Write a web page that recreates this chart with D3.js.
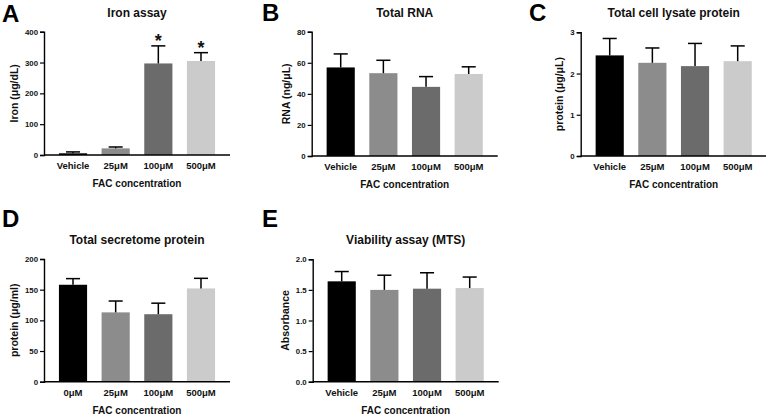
<!DOCTYPE html>
<html><head><meta charset="utf-8">
<script src="https://cdn.jsdelivr.net/npm/d3@7/dist/d3.min.js"></script>
<style>
html,body{margin:0;padding:0;background:#fff;}
svg{display:block;font-family:"Liberation Sans",Arial,sans-serif;}
</style></head>
<body>
<svg id="chart" width="766" height="415"></svg>
<script>
// ---- data ----
const categoriesFAC = ["Vehicle", "25μM", "100μM", "500μM"];
const categoriesD = ["0μM", "25μM", "100μM", "500μM"];
const barColors = ["#000000", "#8c8c8c", "#6b6b6b", "#cbcbcb"];

const ironMean = [5.5, 21.5, 297, 305];
const ironErr = [4.5, 4.5, 57, 27];
const ironStars = ["", "", "*", "*"];
const ironTicks = [0, 100, 200, 300, 400];

const rnaMean = [57, 53.3, 44.5, 52.8];
const rnaErr = [8.7, 8.3, 6.6, 4.6];
const rnaTicks = [0, 20, 40, 60, 80];

const lysateMean = [2.44, 2.26, 2.18, 2.30];
const lysateErr = [0.41, 0.36, 0.55, 0.37];
const lysateTicks = [0, 1, 2, 3];

const secretomeMean = [158, 113, 110, 152];
const secretomeErr = [10, 18.5, 18, 16.5];
const secretomeTicks = [0, 50, 100, 150, 200];

const mtsMean = [1.64, 1.50, 1.52, 1.53];
const mtsErr = [0.16, 0.24, 0.26, 0.18];
const mtsTicks = [0.0, 0.5, 1.0, 1.5, 2.0];

const panels = [
  {letter:"A", title:"Iron assay", ylabel:"Iron (μg/dL)", cats:categoriesFAC, mean:ironMean, err:ironErr, stars:ironStars, ticks:ironTicks, fmt:d3.format("d"),
   x0:44, y0:31.7, y1:155, lx:2, ly:22},
  {letter:"B", title:"Total RNA", ylabel:"RNA (ng/μL)", cats:categoriesFAC, mean:rnaMean, err:rnaErr, ticks:rnaTicks, fmt:d3.format("d"),
   x0:311.7, y0:31.7, y1:156, lx:262, ly:21},
  {letter:"C", title:"Total cell lysate protein", ylabel:"protein (μg/μL)", cats:categoriesFAC, mean:lysateMean, err:lysateErr, ticks:lysateTicks, fmt:d3.format("d"),
   x0:580.7, y0:32.3, y1:156, lx:529, ly:21},
  {letter:"D", title:"Total secretome protein", ylabel:"protein (μg/ml)", cats:categoriesD, mean:secretomeMean, err:secretomeErr, ticks:secretomeTicks, fmt:d3.format("d"),
   x0:44, y0:259, y1:381.7, lx:2, ly:227},
  {letter:"E", title:"Viability assay (MTS)", ylabel:"Absorbance", cats:categoriesFAC, mean:mtsMean, err:mtsErr, ticks:mtsTicks, fmt:d3.format(".1f"),
   x0:312.7, y0:259.3, y1:381.7, lx:262, ly:227}
];

const svg = d3.select("#chart");
const plotW = 186;
const ink = "#111";
const FONT = "'Liberation Sans', Arial, sans-serif";

panels.forEach(p => {
  const g = svg.append("g");
  const x = d3.scaleBand().domain(p.cats).range([p.x0, p.x0 + plotW]).paddingInner(0.34).paddingOuter(0.35);
  const ymax = p.ticks[p.ticks.length - 1];
  const y = d3.scaleLinear().domain([0, ymax]).range([p.y1, p.y0]);

  // bars
  g.selectAll("rect.bar").data(p.mean).join("rect")
    .attr("x", (d, i) => x(p.cats[i]))
    .attr("width", x.bandwidth())
    .attr("y", d => y(d))
    .attr("height", d => p.y1 - y(d))
    .attr("fill", (d, i) => barColors[i]);

  // error bars (upper only)
  const capW = x.bandwidth() / 2;
  p.mean.forEach((m, i) => {
    const cx = x(p.cats[i]) + x.bandwidth() / 2;
    const top = y(m + p.err[i]);
    g.append("line").attr("x1", cx).attr("x2", cx).attr("y1", y(m)).attr("y2", top)
      .attr("stroke", "#000").attr("stroke-width", 1.5);
    g.append("line").attr("x1", cx - capW / 2).attr("x2", cx + capW / 2).attr("y1", top).attr("y2", top)
      .attr("stroke", "#000").attr("stroke-width", 1.5);
    if (p.stars && p.stars[i]) {
      g.append("text").attr("x", cx).attr("y", top + 1).attr("text-anchor", "middle")
        .attr("font-size", 18).attr("font-weight", "bold").attr("fill", ink).text(p.stars[i]);
    }
  });

  // y axis
  const yAxis = d3.axisLeft(y).tickValues(p.ticks).tickFormat(p.fmt).tickSize(4).tickPadding(2);
  const ya = g.append("g").attr("transform", `translate(${p.x0},0)`).call(yAxis);
  ya.attr("font-family", FONT);
  ya.select(".domain").attr("stroke", "#000").attr("stroke-width", 1.4);
  ya.selectAll(".tick line").attr("stroke", "#000").attr("stroke-width", 1.2);
  ya.selectAll(".tick text").attr("font-size", 7.8).attr("font-weight", "bold").attr("fill", ink);

  // x axis
  const xAxis = d3.axisBottom(x).tickSize(0).tickPadding(7.5);
  const xa = g.append("g").attr("transform", `translate(0,${p.y1})`).call(xAxis);
  xa.attr("font-family", FONT);
  xa.select(".domain").attr("stroke", "#000").attr("stroke-width", 1.4)
    .attr("d", `M${p.x0},0H${p.x0 + plotW}`);
  xa.selectAll(".tick text").attr("font-size", 9.5).attr("font-weight", "bold").attr("fill", ink);

  // x label
  g.append("text").attr("x", p.x0 + plotW / 2).attr("y", p.y1 + 32).attr("text-anchor", "middle")
    .attr("font-size", 10).attr("font-weight", "bold").attr("fill", ink).text("FAC concentration");

  // y label
  let maxW = 0;
  ya.selectAll(".tick text").each(function(){ maxW = Math.max(maxW, this.getComputedTextLength()); });
  const lxPos = p.x0 - 4 - 2 - maxW - 7;
  g.append("text").attr("transform", `translate(${lxPos},${(p.y0 + p.y1) / 2}) rotate(-90)`)
    .attr("text-anchor", "middle").attr("font-size", 10.5).attr("font-weight", "bold").attr("fill", ink)
    .text(p.ylabel);

  // title
  g.append("text").attr("x", p.x0 + plotW / 2).attr("y", p.y0 - 15).attr("text-anchor", "middle")
    .attr("font-size", 12).attr("font-weight", "bold").attr("fill", ink).text(p.title);

  // panel letter
  g.append("text").attr("x", p.lx).attr("y", p.ly).attr("font-size", 24).attr("font-weight", "bold")
    .attr("fill", "#000").text(p.letter);
});
</script>
</body></html>
